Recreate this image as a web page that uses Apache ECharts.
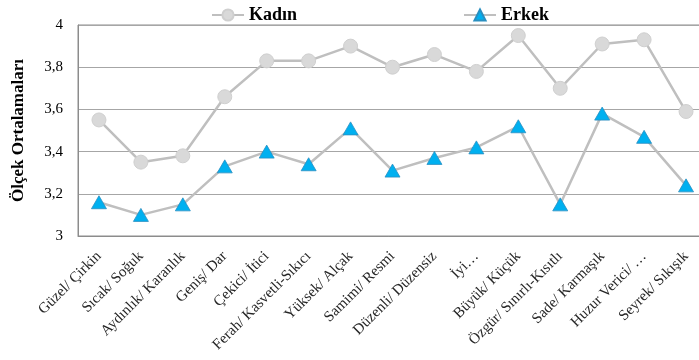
<!DOCTYPE html>
<html>
<head>
<meta charset="utf-8">
<script src="https://cdn.jsdelivr.net/npm/echarts@6/dist/echarts.min.js"></script>
<style>
  html, body { margin: 0; padding: 0; background: #fff; }
  #chart { width: 699px; height: 360px; }
</style>
</head>
<body>
<div id="chart"></div>
<script>
// Semantic-differential pairs (x axis)
const categories = [
  'Güzel/ Çirkin', 'Sıcak/ Soğuk', 'Aydınlık/ Karanlık', 'Geniş/ Dar',
  'Çekici/ İtici', 'Ferah/ Kasvetli-Sıkıcı', 'Yüksek/ Alçak', 'Samimi/ Resmi',
  'Düzenli/ Düzensiz', 'İyi…', 'Büyük/ Küçük', 'Özgür/ Sınırlı-Kısıtlı',
  'Sade/ Karmaşık', 'Huzur Verici/ …', 'Seyrek/ Sıkışık'
];

// Mean scale scores per group
const kadin = [3.55, 3.35, 3.38, 3.66, 3.83, 3.83, 3.90, 3.80, 3.86, 3.78, 3.95, 3.70, 3.91, 3.93, 3.59];
const erkek = [3.16, 3.10, 3.15, 3.33, 3.40, 3.34, 3.51, 3.31, 3.37, 3.42, 3.52, 3.15, 3.58, 3.47, 3.24];

// Y axis tick labels (Turkish decimal comma)
const yTicks = { 3: '3', 3.2: '3,2', 3.4: '3,4', 3.6: '3,6', 3.8: '3,8', 4: '4' };

const serif = '"Liberation Serif", "Times New Roman", serif';
const chart = echarts.init(document.getElementById('chart'));

chart.setOption({
  animation: false,
  grid: {
    left: 78, right: -8, top: 25, bottom: 124,
    outerBoundsMode: 'none',
    containLabel: false,
    show: true, borderColor: '#8c8c8c', borderWidth: 1
  },
  legend: [
    {
      data: ['Kadın'], left: 206, top: 1,
      itemWidth: 32, itemHeight: 14, itemGap: 6,
      textStyle: { fontFamily: serif, fontWeight: 'bold', fontSize: 18, color: '#000' }
    },
    {
      data: ['Erkek'], left: 458, top: 1,
      itemWidth: 32, itemHeight: 14, itemGap: 6,
      textStyle: { fontFamily: serif, fontWeight: 'bold', fontSize: 18, color: '#000' }
    }
  ],
  xAxis: {
    type: 'category',
    data: categories,
    boundaryGap: true,
    axisLine: { lineStyle: { color: '#8c8c8c' } },
    axisTick: { show: false },
    axisLabel: {
      rotate: 45, interval: 0, margin: 18,
      fontFamily: serif, fontSize: 15, color: '#262626'
    }
  },
  yAxis: {
    type: 'value',
    min: 3, max: 4, interval: 0.2,
    name: 'Ölçek Ortalamaları',
    nameLocation: 'middle', nameRotate: 90, nameGap: 51,
    nameTextStyle: { fontFamily: serif, fontWeight: 'bold', fontSize: 17, color: '#000' },
    axisLine: { show: true, lineStyle: { color: '#8c8c8c' } },
    axisTick: { show: false },
    splitLine: { lineStyle: { color: '#a6a6a6' } },
    axisLabel: {
      fontFamily: serif, fontSize: 15, color: '#000', margin: 15,
      formatter: v => yTicks[Math.round(v * 10) / 10] ?? ''
    }
  },
  series: [
    {
      name: 'Kadın', type: 'line', data: kadin,
      symbol: 'circle', symbolSize: 14,
      lineStyle: { color: '#bfbfbf', width: 2.5 },
      itemStyle: { color: '#d9d9d9', borderColor: '#cfcfcf', borderWidth: 1 }
    },
    {
      name: 'Erkek', type: 'line', data: erkek,
      symbol: 'triangle', symbolSize: [15, 13],
      lineStyle: { color: '#bfbfbf', width: 2.5 },
      itemStyle: { color: '#00b0f0', borderColor: '#2a8fc0', borderWidth: 0.8 }
    }
  ]
});
</script>
</body>
</html>
